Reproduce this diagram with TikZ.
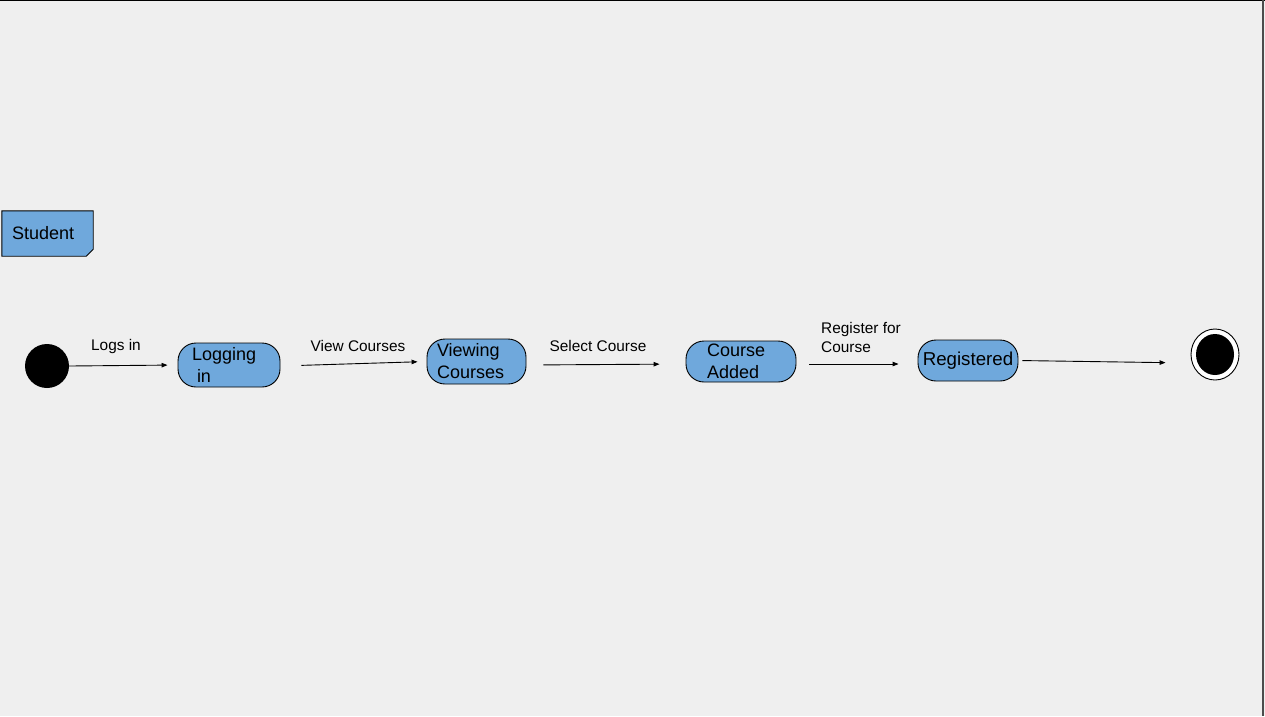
\documentclass[tikz,border=0pt]{standalone}
\usepackage{fontspec}
\setmainfont{Liberation Sans}
\usetikzlibrary{arrows.meta,calc,shapes.geometric}
\definecolor{bg}{HTML}{EFEFEF}
\definecolor{stblue}{HTML}{6FA8DC}
\tikzset{
  statebox/.style={draw=black, line width=0.9pt, fill=stblue, rounded corners=18pt,
    font=\fontsize{18}{22}\selectfont, inner ysep=0pt},
  lbl/.style={font=\fontsize{15.4}{19}\selectfont, inner sep=0pt},
  flow/.style={draw=black, line width=0.9pt, -{Triangle[length=6pt,width=4.5pt]}},
}
\begin{document}
\begin{tikzpicture}[x=1pt,y=-1pt]
\useasboundingbox (0,0) rectangle (1265,716);
\fill[bg] (0,0) rectangle (1265,716);
\draw[black, line width=1.2pt] (0,0.6) -- (1265,0.6);
\draw[black!70, line width=2pt] (1262.5,0) -- (1262.5,716);

% Student swimlane label
\node[minimum width=91pt, minimum height=45pt, inner sep=0pt] (student) at (47.5,233.5) {};
\filldraw[fill=stblue, draw=black, line width=0.9pt]
  (student.north west) -- (student.north east) -- ($(student.south east)+(0,-7)$)
  -- ($(student.south east)+(-7,0)$) -- (student.south west) -- cycle;
\node[anchor=west, font=\fontsize{18}{22}\selectfont, inner sep=0pt] (studenttext) at (12,233) {Student};

% start
\node[circle, fill=black, minimum size=44pt, inner sep=0pt] (start) at (47,366) {};

% states
\node[statebox, minimum width=102pt, minimum height=44pt, text width=74pt, inner xsep=14pt, align=left] (login) at (229,365) {Logging\\\hspace*{5pt}in};
\node[statebox, minimum width=99pt, minimum height=45pt, text width=79pt, inner xsep=10pt, align=left] (viewing) at (476.5,361.5) {Viewing\\Courses};
\node[statebox, minimum width=110pt, minimum height=41pt, text width=68pt, inner xsep=21pt, align=left] (added) at (741,361.5) {Course\\Added};
\node[statebox, minimum width=100pt, minimum height=41pt, inner xsep=2pt, font=\fontsize{18.7}{22}\selectfont] (registered) at (968,360.5) {Registered};

% end
\node[ellipse, draw=black, line width=0.9pt, fill=white, minimum width=48pt, minimum height=51pt, inner sep=0pt] (final) at (1215,354.5) {};
\node[ellipse, fill=black, minimum width=38pt, minimum height=41pt, inner sep=0pt] (finalin) at (final.center) {};

% flows
\draw[flow, shorten >=10pt] (start.east) -- (login.west);
\draw[flow, shorten <=21pt, shorten >=9pt] ($(login.east)+(0,1)$) -- (viewing.west);
\draw[flow, shorten <=17pt, shorten >=26pt] ($(viewing.east)+(0,3.5)$) -- ($(added.west)+(0,2.5)$);
\draw[flow, shorten <=13pt, shorten >=19pt] ($(added.east)+(0,2.5)$) -- ($(registered.west)+(0,3.5)$);
\draw[flow, shorten <=4pt, shorten >=25pt] (registered.east) -- ($(final.west)+(0,8.5)$);

% labels
\node[lbl] (l1) at (116,347) {Logs in};
\node[lbl] (l2) at (358,346) {View Courses};
\node[lbl] (l3) at (598,346) {Select Course};
\node[lbl, anchor=west, align=left] (l4) at (821,337.5) {Register for\\Course};
\end{tikzpicture}
\end{document}
